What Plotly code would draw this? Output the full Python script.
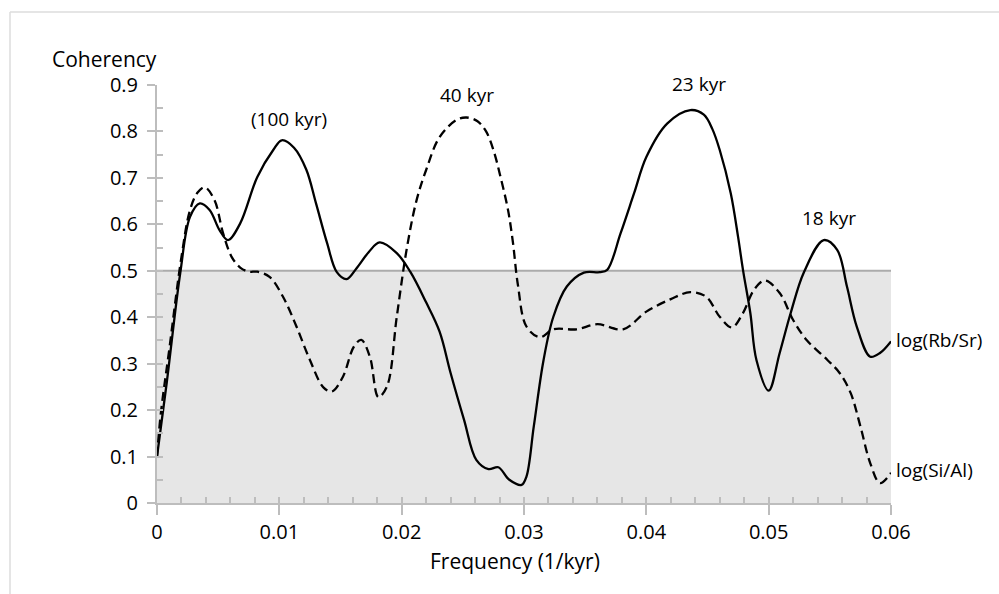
import plotly.graph_objects as go

# Coherency spectra of the two geochemical proxies
freq_rb = [0, 0.0008, 0.0019, 0.0027, 0.0035, 0.0043, 0.0051, 0.0058, 0.0068, 0.0082,
           0.0095, 0.0102, 0.0112, 0.0122, 0.0130, 0.0139, 0.0147, 0.0155, 0.0163, 0.0173,
           0.0182, 0.0196, 0.0207, 0.0220, 0.0231, 0.0240, 0.0251, 0.0261, 0.0271, 0.0279,
           0.0288, 0.0298, 0.0302, 0.0308, 0.0316, 0.0324, 0.0335, 0.0349, 0.0362, 0.0368,
           0.0379, 0.0390, 0.0400, 0.0417, 0.0436, 0.0447, 0.0454, 0.0460, 0.0469, 0.0475,
           0.0479, 0.0485, 0.0490, 0.0500, 0.0509, 0.0518, 0.0529, 0.0545, 0.0556, 0.0564,
           0.0572, 0.0583, 0.0591, 0.0600]
coh_rb = [0.10, 0.26, 0.495, 0.616, 0.645, 0.631, 0.588, 0.566, 0.602, 0.702,
          0.760, 0.781, 0.765, 0.718, 0.645, 0.560, 0.497, 0.482, 0.505, 0.540,
          0.561, 0.538, 0.498, 0.432, 0.369, 0.280, 0.179, 0.093, 0.073, 0.077,
          0.050, 0.039, 0.057, 0.165, 0.308, 0.401, 0.466, 0.496, 0.497, 0.502,
          0.581, 0.667, 0.745, 0.817, 0.846, 0.836, 0.805, 0.760, 0.667, 0.573,
          0.502, 0.409, 0.308, 0.242, 0.323, 0.409, 0.498, 0.566, 0.545, 0.466,
          0.380, 0.315, 0.323, 0.348]

freq_si = [0, 0.0003, 0.0010, 0.0020, 0.0027, 0.0033, 0.0039, 0.0047, 0.0054, 0.0061,
           0.0068, 0.0075, 0.0082, 0.0092, 0.0103, 0.0114, 0.0125, 0.0136, 0.0143, 0.0152,
           0.0161, 0.0167, 0.0174, 0.0181, 0.0188, 0.0196, 0.0204, 0.0212, 0.0220, 0.0231,
           0.0245, 0.0253, 0.0262, 0.0269, 0.0275, 0.0281, 0.0287, 0.0291, 0.0295, 0.0302,
           0.0313, 0.0324, 0.0343, 0.0360, 0.0381, 0.0400, 0.0420, 0.0436, 0.0449, 0.0460,
           0.0470, 0.0479, 0.0488, 0.0497, 0.0509, 0.0520, 0.0531, 0.0548, 0.0558, 0.0567,
           0.0575, 0.0583, 0.0591, 0.0600]
coh_si = [0.10, 0.19, 0.33, 0.53, 0.631, 0.668, 0.680, 0.652, 0.581, 0.530,
          0.507, 0.498, 0.498, 0.487, 0.444, 0.380, 0.308, 0.249, 0.240, 0.272,
          0.337, 0.351, 0.315, 0.228, 0.251, 0.401, 0.545, 0.650, 0.717, 0.788,
          0.825, 0.830, 0.822, 0.800, 0.760, 0.700, 0.630, 0.560, 0.470, 0.380,
          0.357, 0.374, 0.374, 0.385, 0.374, 0.412, 0.439, 0.454, 0.444, 0.401,
          0.378, 0.409, 0.459, 0.479, 0.452, 0.394, 0.351, 0.308, 0.280, 0.237,
          0.165, 0.086, 0.043, 0.065]

significance = 0.5
x_range = [0, 0.06]
y_range = [0, 0.9]

# Period labels at the coherency peaks: (text, frequency, coherency)
peak_labels = [("(100 kyr)", 0.0108, 0.826),
               ("40 kyr", 0.0253, 0.878),
               ("23 kyr", 0.0443, 0.902),
               ("18 kyr", 0.0549, 0.614)]
series_labels = [("log(Rb/Sr)", 0.351), ("log(Si/Al)", 0.072)]

W, H = 999, 594
ML, MR, MT, MB = 157, 108, 85, 91
PW, PH = W - ML - MR, H - MT - MB


def px(xp):
    return (xp - ML) / PW


def py(yp):
    return (H - MB - yp) / PH


def xpix(f):
    return ML + (f - x_range[0]) / (x_range[1] - x_range[0]) * PW


def ypix(c):
    return H - MB - (c - y_range[0]) / (y_range[1] - y_range[0]) * PH


FONT = "Open Sans"
AXIS_GREY = "#bdbdbd"

fig = go.Figure()

fig.add_trace(go.Scatter(x=freq_rb, y=coh_rb, mode="lines", name="log(Rb/Sr)",
                         line=dict(color="black", width=2.3, shape="spline", smoothing=1.0),
                         showlegend=False, cliponaxis=False))
fig.add_trace(go.Scatter(x=freq_si, y=coh_si, mode="lines", name="log(Si/Al)",
                         line=dict(color="black", width=2.3, dash="9px,5px",
                                   shape="spline", smoothing=1.0),
                         showlegend=False, cliponaxis=False))
# carrier for the inner tick axes
fig.add_trace(go.Scatter(x=[x_range[0]], y=[y_range[0]], xaxis="x2", yaxis="y2",
                         mode="markers", marker=dict(opacity=0), hoverinfo="skip",
                         showlegend=False))

# significance band below the 0.5 level
fig.add_shape(type="rect", xref="x", yref="y", x0=x_range[0], x1=x_range[1],
              y0=0, y1=significance, fillcolor="#e6e6e6", line_width=0, layer="below")
fig.add_shape(type="line", xref="x", yref="y", x0=x_range[0], x1=x_range[1],
              y0=significance, y1=significance,
              line=dict(color="#ababab", width=2), layer="below")

# frame lines along the top and left edges
fig.add_shape(type="line", xref="paper", yref="paper", x0=px(10), x1=px(W + 5),
              y0=py(12), y1=py(12), line=dict(color="#dcdcdc", width=1.5))
fig.add_shape(type="line", xref="paper", yref="paper", x0=px(10), x1=px(10),
              y0=py(12), y1=py(H + 5), line=dict(color="#dcdcdc", width=1.5))

for text, f, c in peak_labels:
    fig.add_annotation(x=px(xpix(f)), y=py(ypix(c)), xref="paper", yref="paper", text=text,
                       showarrow=False, xanchor="center", yanchor="middle",
                       font=dict(family=FONT, size=19, color="black"))
for text, c in series_labels:
    fig.add_annotation(x=1, y=py(ypix(c)), xref="paper", yref="paper", text=text,
                       showarrow=False, xanchor="left", yanchor="middle", xshift=3,
                       font=dict(family=FONT, size=19, color="black"))

fig.add_annotation(x=px(104), y=py(59), xref="paper", yref="paper", text="Coherency",
                   showarrow=False, xanchor="center", yanchor="middle",
                   font=dict(family=FONT, size=21, color="black"))
fig.add_annotation(x=px(515), y=py(561), xref="paper", yref="paper",
                   text="Frequency (1/kyr)", showarrow=False,
                   xanchor="center", yanchor="middle",
                   font=dict(family=FONT, size=21, color="black"))

common = dict(showgrid=False, zeroline=False, tickcolor=AXIS_GREY, tickwidth=2)

fig.update_layout(
    width=W, height=H,
    margin=dict(l=ML, r=MR, t=MT, b=MB, pad=0),
    paper_bgcolor="white", plot_bgcolor="white",
    font=dict(family=FONT, size=20, color="black"),
    xaxis=dict(range=x_range, dtick=0.01, tick0=0, ticks="outside", ticklen=10,
               showline=True, linecolor=AXIS_GREY, linewidth=2,
               ticklabelstandoff=0, tickfont=dict(size=20), **common),
    xaxis2=dict(range=x_range, overlaying="x", anchor="y", dtick=0.002, tick0=0,
                ticks="inside", ticklen=6, showticklabels=False, showline=False, **common),
    yaxis=dict(range=y_range, dtick=0.1, tick0=0, ticks="outside", ticklen=8,
               showline=True, linecolor=AXIS_GREY, linewidth=2,
               ticklabelstandoff=5, tickfont=dict(size=20), **common),
    yaxis2=dict(range=y_range, overlaying="y", anchor="x", dtick=0.05, tick0=0,
                ticks="inside", ticklen=6, showticklabels=False, showline=False, **common),
)

fig.write_html("out.html")
